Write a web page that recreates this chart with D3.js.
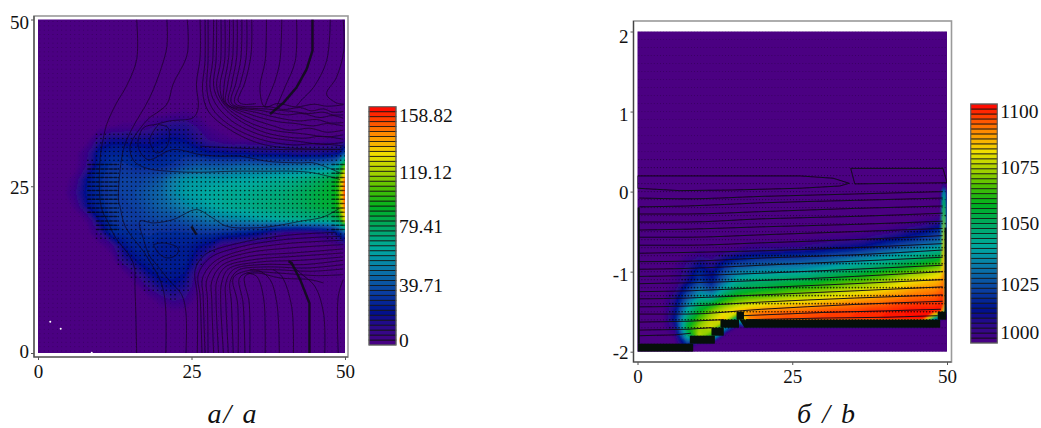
<!DOCTYPE html>
<html>
<head>
<meta charset="utf-8">
<title>Two field plots</title>
<script src="https://cdn.jsdelivr.net/npm/d3@7"></script>
<style>
  body { margin: 0; background: #fff; }
  text { font-family: "Liberation Serif", serif; fill: #111; }
</style>
</head>
<body>
<div id="chart"></div>
<script>
// ---- panel a: field values, rows from y=50 down to y=0
var speedCols = [0,2,4,6,8,10,12,14,16,18,20,22,24,26,28,30,32,34,36,38,40,42,44,46,48,49,49.5,50]
var speedYs = [50,48,46,44,42,40,38,36,34,32,30,28,26,24,22,20,18,16,14,12,10,8,6,4,2,0]
var speedRows = [
  [0,0,0,0,0,0,0,0,0,0,0,0,0,0,0,0,0,0,0,0,0,0,0,0,0,0,0,0],
  [0,0,0,0,0,0,0,0,0,0,0,0,0,0,0,0,0,0,0,0,0,0,0,0,0,0,0,0],
  [0,0,0,0,0,0,0,0,0,0,0,0,0,0,0,0,0,0,0,0,0,0,0,0,0,0,0,0],
  [0,0,0,0,0,0,0,0,0,0,0,0,0,0,0,0,0,0,0,0,0,0,0,0,0,0,0,0],
  [0,0,0,0,0,0,0,0,0,0,0,0,0,0,0,0,0,0,0,0,0,0,0,0,0,0,0,0],
  [0,0,0,0,0,0,0,0,0,0,0,0,0,0,0,0,0,0,0,0,0,0,0,0,0,0,0,0],
  [0,0,0,0,0,0,0,0,0,0,0,0,0,0,0,0,0,0,0,0,0,0,0,0,0,0,0,0],
  [0,0,0,0,0,0,0,0,0,0,0,2,3,1,0,0,0,0,0,0,0,0,0,0,0,0,0,0],
  [0,0,0,0,0,0,2,3,3,6,12,14,14,8,2,0,0,0,0,0,0,0,0,0,0,0,0,0],
  [0,0,0,0,0,12,18,18,18,18,20,22,20,14,8,4,2,2,2,2,2,2,2,2,3,3,4,6],
  [0,0,0,0,8,25,28,28,26,24,25,28,28,26,22,22,20,20,18,18,18,16,16,16,18,20,28,40],
  [0,0,0,0,10,28,32,32,30,30,30,32,38,42,42,42,44,46,46,46,46,48,50,52,56,66,88,110],
  [0,0,0,4,22,30,34,36,36,38,42,52,58,60,60,60,62,62,64,66,68,70,74,80,86,98,125,150],
  [0,0,0,8,24,30,34,36,38,42,46,54,60,62,64,66,68,68,70,72,74,78,82,86,90,100,130,155],
  [0,0,0,3,20,28,34,34,36,40,44,48,54,58,62,66,68,70,72,74,76,78,82,86,88,98,125,150],
  [0,0,0,0,3,22,32,34,34,36,38,38,42,46,50,52,54,56,60,62,66,68,70,72,76,84,105,130],
  [0,0,0,0,0,10,28,30,30,32,30,30,30,32,32,30,28,26,22,14,8,6,6,8,14,25,32,40],
  [0,0,0,0,0,0,6,22,28,28,26,26,26,22,18,6,4,0,0,0,0,0,0,0,0,2,3,4],
  [0,0,0,0,0,0,0,14,22,26,26,26,26,16,4,0,0,0,0,0,0,0,0,0,0,0,0,0],
  [0,0,0,0,0,0,0,1,10,20,24,24,22,5,0,0,0,0,0,0,0,0,0,0,0,0,0,0],
  [0,0,0,0,0,0,0,0,1,10,18,20,16,3,0,0,0,0,0,0,0,0,0,0,0,0,0,0],
  [0,0,0,0,0,0,0,0,0,0,5,10,8,0,0,0,0,0,0,0,0,0,0,0,0,0,0,0],
  [0,0,0,0,0,0,0,0,0,0,0,0,0,0,0,0,0,0,0,0,0,0,0,0,0,0,0,0],
  [0,0,0,0,0,0,0,0,0,0,0,0,0,0,0,0,0,0,0,0,0,0,0,0,0,0,0,0],
  [0,0,0,0,0,0,0,0,0,0,0,0,0,0,0,0,0,0,0,0,0,0,0,0,0,0,0,0],
  [0,0,0,0,0,0,0,0,0,0,0,0,0,0,0,0,0,0,0,0,0,0,0,0,0,0,0,0]
]
// isolines of panel a, [x, y] in data units
var speedLines = [
  [[16.07,50],[16.07,44],[14.4,40],[12.8,37.5],[11.2,34.3],[10.6,32],[10.1,29],[10.1,23],[10.6,21],[11.2,20],[12.5,17.5],[15.5,13.5],[15.8,9.5],[16.07,0]],
  [[21,50],[21,46],[20.1,42.8],[18.2,38.3],[15.25,33.5],[13.9,30.5],[13.1,23],[13.35,22],[14.2,19],[17.7,14.5],[20.4,9.5],[20.8,0]],
  [[24.3,50],[24.3,44.8],[22,40.3],[21,37.3],[19,35.8],[18.2,35.3],[16.5,33.5],[15,31],[15.6,28.8],[17.7,27.7],[22,27.2],[26.4,27.1],[31.8,27.25],[37.3,27.25],[41.6,27.25],[44.9,27],[49.2,26]],
  [[26.4,50],[26.4,44.3],[25.8,40.3],[26.1,36.8],[25.3,35.3],[21.5,34.8],[19.3,34.3],[17.15,33.75],[16.3,31],[17.9,29],[22,30.5],[26.4,29.75],[29.7,29.5],[33,29.5],[37.3,28.75],[42.7,28.5],[44.9,28.5],[49.2,27]],
  [[19.6,34.25],[21.2,33.75],[21,31],[19.3,30],[18.2,32],[19.6,34.25]],
  [[26.4,31],[33,30.7],[40,30.5],[49.2,30.5]],
  [[24.1,0],[24.1,6],[23.4,8.75],[21.5,10.75],[19.3,13.25],[18.2,14.5],[17.2,17],[16.6,19.75],[18.8,19.5],[22,20],[25.8,21.5],[28,20.5],[30.7,19],[34.5,18.75],[38.3,19],[42.7,19.75],[46.5,20.4],[49.2,21.75]],
  [[18.8,16.25],[20.4,16.5],[22.8,15.75],[22.6,14.75],[21,14.25],[19.6,15],[18.8,16.25]],
  [[27.2,50],[27.2,43.8],[26.8,39.3],[27.7,36.3],[30.7,33.8],[35.6,31.55],[40,30.8],[49.7,30.55]],
  [[27.7,50],[27.7,43.8],[27.5,39.55],[28.3,36.8],[31,34.3],[36.15,32.05],[41.6,31.2],[45,31.4],[49.7,31.05]],
  [[28.6,50],[28.45,43.8],[28,40],[28.8,37.55],[31.55,34.8],[36.7,32.55],[42.7,31.7],[46,31.3],[49.7,31.55]],
  [[29.1,50],[29,43.8],[28.6,40],[29.65,37.55],[32.1,35.3],[37,33.05],[43.2,32.2],[46,32.5],[49.7,32.05]],
  [[29.8,50],[29.75,43.8],[29.1,40],[30.1,37.55],[32.9,35.3],[37.5,33.55],[43.75,32.8],[47,32.4],[49.7,32.7]],
  [[30.45,50],[30.4,43.8],[29.65,40],[30.3,37.55],[33.7,35.55],[38.3,34.05],[41,33.4],[44.3,33.7],[47,33.1],[49.7,33.4]],
  [[31.2,50],[31.05,44.3],[30.3,40],[30.45,37.55],[34.5,35.8],[38.9,34.7],[42,34.4],[44.85,34.05],[47,34.4],[49.7,34.05]],
  [[31.8,50],[31.7,44.3],[30.85,40],[30.7,37.4],[35.6,36.05],[39.4,35.2],[42.5,34.8],[45.4,35],[47.5,34.5],[49.7,34.55]],
  [[32.45,50],[32.35,44.3],[31.55,40.3],[31.15,37.4],[36.7,36.3],[40.5,35.7],[43,35.9],[45.9,35.3],[48,35.6],[49.7,35.2]],
  [[33.2,50],[33.05,44.3],[32.25,40.55],[31.55,37.4],[37.5,36.55],[41.6,36.2],[44,35.9],[46.5,36.1],[48,35.7],[49.7,35.7]],
  [[34,50],[33.9,44.3],[33,40.55],[32.1,37.4],[37.8,36.9],[40,36.5],[42.7,36.8],[44.5,36.3],[46.5,36.6],[48,36.1],[49.7,36.2]],
  [[34.8,50],[34.7,44.8],[33.7,40.55],[32.6,37.8],[33.4,37.3],[35.5,37.4]],
  [[37.2,50],[37,43.8],[36.15,39.8],[36.9,36.9],[39,37.4],[42,36.9],[45,37.3],[47,37],[49.7,37.2]],
  [[39.7,50],[39.4,43.8],[38.6,40.8],[37.5,38.3],[36.9,36.9]],
  [[42.1,50],[41.9,43.8],[40.2,39.8],[38.9,37]],
  [[47.6,50],[47,43.8],[44.85,39.8],[43,38],[42.1,37]],
  [[49.7,50],[49.8,45.3],[48.6,41.3],[47,38.8],[48.6,37.5],[49.8,37.3]],
  [[25.95,0],[25.95,8.5],[25.6,12.5],[27.2,14.75],[32.35,16.4],[40,17.6],[48.6,18.1]],
  [[26.7,0],[26.4,8.5],[26.1,11.75],[28,14.25],[32.9,15.9],[40,17],[49.45,17.5]],
  [[27.2,0],[26.9,8.5],[26.8,11.25],[28.8,13.75],[33.4,15.4],[40.5,16.4],[49.7,16.9]],
  [[27.7,0],[27.6,8],[27.5,11],[29.4,13.5],[34,15],[41,15.75],[49.7,16.25]],
  [[28.6,0],[28.3,8],[28.3,10.75],[29.9,13.1],[34.5,14.5],[41.6,15],[49.7,15.6]],
  [[29.4,0],[29,8],[29.1,10.75],[30.5,12.9],[35.1,14],[42.1,14.5],[49.7,15]],
  [[30.2,0],[29.75,8],[29.9,10.5],[31,12.6],[35.6,13.6],[42.7,13.9],[49.7,14.4]],
  [[31,0],[30.6,7.5],[30.6,10.5],[31.8,12.5],[36.2,13.25],[43.2,13.25],[49.7,13.9]],
  [[31.8,0],[31.5,7.5],[31.3,10.75],[32.6,12.4],[36.7,12.9],[43.8,12.75],[49.7,13.25]],
  [[32.6,0],[32.5,7.5],[31.8,11.25],[33.7,12.25],[37.8,12.5],[44.3,12.25],[49.7,12.6]],
  [[33.7,0],[33.4,7.5],[32.8,11.25],[34.5,12.1],[38.9,12],[45.4,11.6],[49.7,11.75]],
  [[34.5,0],[34.4,7.5],[33.7,11.5],[35.6,12],[39.4,11.25],[44.3,11],[46.5,10.5]],
  [[37,0],[37,3.5],[36.7,8.5],[35.6,11.5],[34,12]],
  [[39.3,0],[38.9,7.5],[37.8,11],[36.2,12.25],[34.5,12.5]],
  [[41.6,0],[41.3,7],[39.7,11.5],[38.3,12.5]],
  [[46.7,0],[46.5,6],[45.1,10],[42.7,12],[41,13.5]],
  [[48.9,0],[48.9,8.5],[49.7,11]]
]
// the two heavy isolines and the short heavy mark
var speedHeavy = [
  [[44.7,50],[44.7,45.3],[43.75,42.55],[42.1,39.8],[40,37.55],[37.8,35.8]],
  [[44.2,0],[44.2,7.5],[42.7,11],[41.3,13.5],[40.8,13.75]],
  [[25,19],[25.8,17.75]]
]
var speedSpecks = [[2,4.7],[3.7,3.65],[8.75,0.05]]
// arrow class of the vector overlay (0 faint dot, 3 dash)
var speedFlowXs = [0,5,10,15,20,25,30,35,40,45,50]
var speedFlowYs = [50,45,40,35,32,25,21,15,10,5,0]
var speedFlow = [
  [0,0,0,0,0,0,0,0,0,0,0],
  [0,0,0,0,0,0,0,0,0,0,0],
  [0,0,0,0,0,0,0,0,0,0,0],
  [0,0,0,0,1,1,0,0,0,0,0],
  [0,0,2,2,2,2,2,2,2,2,2],
  [0,0,3,2,2,2,2,2,2,2,3],
  [0,0,3,2,2,2,2,2,2,2,3],
  [0,0,2,2,2,2,2,2,2,2,2],
  [0,0,0,2,2,2,0,0,0,0,0],
  [0,0,0,0,0,0,0,0,0,0,0],
  [0,0,0,0,0,0,0,0,0,0,0]
]
var speedTicks = [0,25,50]
var speedBarTicks = [0,39.71,79.41,119.12,158.82]

// ---- panel b: field over 1000, rows from y=0.4 down to y=-2
var tempCols = [0,2,4,6,8,10,12,14,16,18,20,22,24,26,28,30,32,34,36,38,40,42,44,46,48,49,49.5,50]
var tempYs = [0.4,0.3,0.2,0.1,0,-0.1,-0.2,-0.3,-0.4,-0.5,-0.6,-0.7,-0.8,-0.9,-1,-1.1,-1.2,-1.3,-1.4,-1.5,-1.6,-1.7,-1.8,-1.9,-2]
var tempRows = [
  [0,0,0,0,0,0,0,0,0,0,0,0,0,0,0,0,0,0,0,0,0,0,0,0,0,0,0,0],
  [0,0,0,0,0,0,0,0,0,0,0,0,0,0,0,0,0,0,0,0,0,0,0,0,0,0,0,0],
  [0,0,0,0,0,0,0,0,0,0,0,0,0,0,0,0,0,0,0,0,0,0,0,0,0,0,0,0],
  [0,0,0,0,0,0,0,0,0,0,0,0,0,0,0,0,0,0,0,0,0,0,0,0,0,0,5,0],
  [0,0,0,0,0,0,0,0,0,0,0,0,0,0,0,0,0,0,0,0,0,0,0,0,0,0,38,0],
  [0,0,0,0,0,0,0,0,0,0,0,0,0,0,0,0,0,0,0,0,0,0,0,0,0,0,55,0],
  [0,0,0,0,0,0,0,0,0,0,0,0,0,0,0,0,0,0,0,0,0,0,0,0,0,0,66,0],
  [0,0,0,0,0,0,0,0,0,0,0,0,0,0,0,0,0,0,0,0,0,0,0,0,1,2,70,0],
  [0,0,0,0,0,0,0,0,0,0,0,0,0,0,0,0,0,0,0,0,0,1,2,4,8,10,74,0],
  [0,0,0,0,0,0,0,0,0,0,0,0,0,0,0,0,0,0,1,2,3,6,10,13,18,20,78,0],
  [0,0,0,0,0,0,0,0,0,0,0,0,0,1,2,3,4,5,6,9,12,15,18,22,26,28,82,0],
  [0,0,0,0,0,0,0,0,1,4,5,5,6,6,8,10,12,13,15,18,22,26,30,34,38,40,84,0],
  [0,0,0,0,2,5,4,8,12,14,16,17,18,19,20,22,24,26,29,32,36,39,42,46,50,52,86,0],
  [0,0,0,1,6,12,8,16,22,24,26,27,28,28,30,32,35,38,40,43,46,50,54,58,62,64,88,0],
  [0,0,0,2,8,18,12,24,32,34,36,37,38,39,41,44,47,50,52,56,60,63,66,70,74,76,90,0],
  [0,0,0,2,10,20,14,28,40,44,46,48,50,51,53,56,59,62,64,67,70,74,78,80,83,85,92,0],
  [0,0,0,3,18,30,22,38,48,52,54,56,59,61,63,66,69,72,74,77,79,82,85,87,88,90,94,0],
  [0,0,0,8,24,38,36,52,60,63,65,67,70,72,74,77,79,81,83,85,87,88,90,91,92,94,96,0],
  [0,0,0,10,32,50,56,66,72,76,78,80,81,83,84,86,87,89,90,91,92,94,95,96,96,97,98,0],
  [0,0,0,12,42,58,70,78,84,88,90,91,92,92,93,94,95,95,96,97,97,98,99,99,99,100,60,0],
  [0,0,0,14,50,66,76,85,40,90,92,93,94,94,95,95,96,96,97,97,98,98,99,99,30,0,0,0],
  [0,0,0,8,56,72,78,40,0,0,0,0,0,0,0,0,0,0,0,0,0,0,0,0,0,0,0,0],
  [0,0,0,2,45,76,60,0,0,0,0,0,0,0,0,0,0,0,0,0,0,0,0,0,0,0,0,0],
  [0,0,0,0,20,0,0,0,0,0,0,0,0,0,0,0,0,0,0,0,0,0,0,0,0,0,0,0],
  [0,0,0,0,0,0,0,0,0,0,0,0,0,0,0,0,0,0,0,0,0,0,0,0,0,0,0,0]
]
// isolines of panel b: y at each of the shared x stops
var tempStops = [0.3,8,20,35,49.3]
var tempLevels = [
  [-0.08,-0.09,-0.06,-0.03,0],
  [-0.19,-0.18,-0.14,-0.11,-0.08],
  [-0.28,-0.28,-0.25,-0.21,-0.18],
  [-0.38,-0.38,-0.34,-0.31,-0.27],
  [-0.48,-0.47,-0.44,-0.41,-0.37],
  [-0.57,-0.57,-0.54,-0.5,-0.46],
  [-0.67,-0.67,-0.64,-0.6,-0.55],
  [-0.77,-0.76,-0.74,-0.7,-0.65],
  [-0.875,-0.87,-0.83,-0.79,-0.73],
  [-0.97,-0.96,-0.92,-0.87,-0.82],
  [-1.06,-1.05,-1.02,-0.97,-0.92],
  [-1.15,-1.14,-1.11,-1.06,-1],
  [-1.25,-1.24,-1.2,-1.15,-1.1],
  [-1.34,-1.33,-1.29,-1.24,-1.19],
  [-1.44,-1.43,-1.38,-1.33,-1.29],
  [-1.53,-1.53,-1.47,-1.41,-1.37]
]
var tempLines = [
  [[0.3,-1.63],[8,-1.62],[14,-1.6]],
  [[0.3,-1.73],[8,-1.72],[12,-1.7]],
  [[0.3,-1.8],[6,-1.79],[8.6,-1.77]],
  [[17,-1.55],[30,-1.51],[40,-1.49],[49,-1.47]],
  [[17.5,-1.6],[30,-1.58],[40,-1.57],[48.5,-1.55]],
  [[0,0.196],[15.4,0.196],[26.2,0.196],[31.6,0.167],[34.2,0.104],[32.7,0.07],[26.2,0.042],[15.4,0.02],[6.8,0.012],[0,0.042],[0,0.196]],
  [[34.45,0.29],[49.35,0.29],[50,0.11],[42,0.104],[35.1,0.096],[34.45,0.29]]
]
// black wall cells of panel b: x0, x1, y0, y1
var tempWalls = [
  [0,9,-2,-1.9],
  [8.45,12.5,-1.9,-1.8],
  [11.95,13.94,-1.8,-1.7],
  [13.4,16.4,-1.7,-1.6],
  [16,17.2,-1.6,-1.5],
  [17.5,48.9,-1.7,-1.6],
  [48.5,49.9,-1.6,-1.5],
  [0,0.35,-1.9,-0.2],
  [49.6,49.9,-1.5,-0.45]
]
var tempSpike = [[16.5,-1.6],[17.5,-1.6],[17.6,-1.7],[17.3,-1.7]]
var tempFlowXs = [0,10,20,30,40,50]
var tempFlowYs = [2,1,0,-0.5,-1,-1.5,-2]
var tempFlow = [
  [0,0,0,0,0,0],
  [0,0,0,0,0,0],
  [1,1,1,1,1,1],
  [1,1,2,2,2,2],
  [1,2,2,2,2,2],
  [1,2,2,2,2,2],
  [0,0,0,0,0,0]
]
var tempTicksX = [0,25,50]
var tempTicksY = [-2,-1,0,1,2]
var tempBarTicks = [1000,1025,1050,1075,1100]

// shared rainbow, fraction of the range to colour
var rampStops = [0,0.08,0.14,0.22,0.32,0.4,0.5,0.58,0.66,0.72,0.8,0.88,1]
var rampColors = ["#4b0082","#2a0a8a","#00108c","#0a3ea0","#0a78a8","#00a8a0","#00a860","#00b020","#50c000","#a0d000","#f0e000","#ff9000","#ff0000"]
var ramp = d3.scaleLinear().domain(rampStops).range(rampColors)

var svg = d3.select("#chart").append("svg")
    .attr("width", 1041)
    .attr("height", 428)
    .style("display", "block")

var defs = svg.append("defs")
defs.append("filter").attr("id", "soft")
    .attr("x", "-2%").attr("y", "-2%").attr("width", "104%").attr("height", "104%")
    .append("feGaussianBlur").attr("stdDeviation", 0.8)
defs.append("filter").attr("id", "soft2")
    .attr("filterUnits", "userSpaceOnUse")
    .attr("x", 0).attr("y", 0).attr("width", 1041).attr("height", 428)
    .append("feGaussianBlur").attr("stdDeviation", 0.35)

// filled field through d3.contours, grid index to data through piecewise scales
function drawField(g, cols, ys, rows, x, y, maxValue) {
    var n = cols.length, m = ys.length
    var values = rows.flat()
    var ix = d3.scaleLinear().domain(d3.range(n)).range(cols)
    var iy = d3.scaleLinear().domain(d3.range(m)).range(ys)
    var path = d3.geoPath(d3.geoTransform({
        point: function (px, py) {
            this.stream.point(x(ix(px - 0.5)), y(iy(py - 0.5)))
        }
    }))
    var bands = d3.range(1, 72).map(function (i) { return maxValue * i / 72 })
    var contours = d3.contours().size([n, m]).thresholds(bands)(values)
    g.append("g").attr("filter", "url(#soft)")
        .selectAll("path").data(contours).enter().append("path")
        .attr("d", path)
        .attr("fill", function (d) { return ramp((d.value + maxValue / 144) / maxValue) })
}

function drawLines(g, lines, x, y, width, opacity, curve) {
    var line = d3.line().curve(curve).x(function (d) { return x(d[0]) }).y(function (d) { return y(d[1]) })
    g.append("g").attr("filter", "url(#soft2)")
        .selectAll("path").data(lines).enter().append("path")
        .attr("d", line)
        .attr("fill", "none")
        .attr("stroke", "#120a18")
        .attr("stroke-width", width)
        .attr("stroke-opacity", opacity)
}

// vector overlay: one path per arrow class, strong arrows only where the field is up
function drawDots(g, xs, ys, flow, flowXs, flowYs, x, y, field, calm) {
    var cells = [[], [], [], []]
    var fieldYs = field.ys.slice().reverse()
    var flowAsc = flowYs.slice().reverse()
    ys.forEach(function (vy) {
        var r = flowYs.length - 1 - d3.bisectCenter(flowAsc, vy)
        var fr = field.ys.length - 1 - d3.bisectCenter(fieldYs, vy)
        xs.forEach(function (vx) {
            var k = flow[r][d3.bisectCenter(flowXs, vx)]
            if (k >= 2 && field.rows[fr][d3.bisectCenter(field.cols, vx)] < field.floor) k = calm
            cells[k].push([x(vx), y(vy)])
        })
    })
    var style = [
        {w: 1, o: 0.25, len: 0.1},
        {w: 1.1, o: 0.5, len: 0.1},
        {w: 1.6, o: 0.75, len: 0.1},
        {w: 1.5, o: 0.7, len: 2.6}
    ]
    var dots = g.append("g").attr("filter", "url(#soft2)")
    cells.forEach(function (pts, i) {
        dots.append("path")
            .attr("d", pts.map(function (p) { return "M" + p[0] + "," + p[1] + "h" + style[i].len }).join(""))
            .attr("fill", "none")
            .attr("stroke", "#000")
            .attr("stroke-linecap", "round")
            .attr("stroke-width", style[i].w)
            .attr("stroke-opacity", style[i].o)
    })
}

function drawFrame(g, f) {
    g.append("rect")
        .attr("x", f.x0).attr("y", f.y0)
        .attr("width", f.x1 - f.x0).attr("height", f.y1 - f.y0)
        .attr("fill", "none").attr("stroke", "#9a9a9a").attr("stroke-width", 1.6)
    g.append("path")
        .attr("d", "M" + f.x0 + "," + f.y0 + "V" + f.y1 + "H" + f.x1)
        .attr("fill", "none").attr("stroke", "#444").attr("stroke-width", 1.2)
}

function drawAxes(g, f, x, y, xTicks, yTicks, yShift) {
    var fmt = function (d) { return String(d) }
    var ax = g.append("g").attr("transform", "translate(0," + f.y1 + ")")
        .call(d3.axisBottom(x).tickValues(xTicks).tickFormat(fmt).tickSize(3).tickPadding(5))
    var ay = g.append("g").attr("transform", "translate(" + f.x0 + ",0)")
        .call(d3.axisLeft(y).tickValues(yTicks).tickFormat(fmt).tickSize(3).tickPadding(2))
    ax.select(".domain").remove()
    ay.select(".domain").remove()
    ax.selectAll("line").attr("stroke", "#555")
    ay.selectAll("line").attr("stroke", "#555")
    ax.selectAll("text").style("font-size", "19px").attr("fill", "#111")
    ay.selectAll("text").style("font-size", "19px").attr("fill", "#111")
        .attr("transform", function (d, i) { return "translate(0," + yShift[i] + ")" })
}

function drawBar(g, b, maxValue, minValue, ticks, shift) {
    var y = d3.scaleLinear().domain([minValue, maxValue]).range([b.y1, b.y0])
    var steps = 48
    var span = maxValue - minValue
    g.selectAll("rect.band").data(d3.range(steps)).enter().append("rect")
        .attr("class", "band")
        .attr("x", b.x0)
        .attr("width", b.x1 - b.x0)
        .attr("y", function (i) { return y(minValue + span * (i + 1) / steps) })
        .attr("height", function (i) { return y(minValue + span * i / steps) - y(minValue + span * (i + 1) / steps) })
        .attr("fill", function (i) { return ramp((i + 0.5) / steps) })
        .attr("stroke", "#111")
        .attr("stroke-opacity", 0.85)
        .attr("stroke-width", 0.9)
    g.append("rect")
        .attr("x", b.x0).attr("y", b.y0)
        .attr("width", b.x1 - b.x0).attr("height", b.y1 - b.y0)
        .attr("fill", "none").attr("stroke", "#777").attr("stroke-width", 1)
    var ax = g.append("g").attr("transform", "translate(" + b.x1 + ",0)")
        .call(d3.axisRight(y).tickValues(ticks).tickFormat(String).tickSize(0).tickPadding(3))
    ax.select(".domain").remove()
    ax.selectAll("text")
        .style("font-size", "19.5px")
        .attr("fill", "#111")
        .attr("transform", function (d, i) { return "translate(0," + shift[i] + ")" })
}

// ---- panel a
var frameA = {x0: 34, x1: 348, y0: 16, y1: 357}
var xA = d3.scaleLinear().domain([0, 50]).range([38, 345])
var yA = d3.scaleLinear().domain([0, 50]).range([353, 19.5])
var panelA = svg.append("g")
defs.append("clipPath").attr("id", "clipA").append("rect")
    .attr("x", xA(0)).attr("y", yA(50)).attr("width", xA(50) - xA(0)).attr("height", yA(0) - yA(50))
panelA.append("rect")
    .attr("x", xA(0)).attr("y", yA(50)).attr("width", xA(50) - xA(0)).attr("height", yA(0) - yA(50))
    .attr("fill", ramp(0))
var plotA = panelA.append("g").attr("clip-path", "url(#clipA)")
drawField(plotA, speedCols, speedYs, speedRows, xA, yA, 158.82)
drawDots(plotA, d3.range(0.3, 50, 0.71), d3.range(0.3, 50, 0.65), speedFlow, speedFlowXs, speedFlowYs, xA, yA,
    {cols: speedCols, ys: speedYs, rows: speedRows, floor: 10}, 0)
drawLines(plotA, speedLines, xA, yA, 0.9, 0.7, d3.curveCatmullRom)
drawLines(plotA, speedHeavy, xA, yA, 2.4, 0.9, d3.curveLinear)
plotA.selectAll("circle").data(speedSpecks).enter().append("circle")
    .attr("cx", function (d) { return xA(d[0]) })
    .attr("cy", function (d) { return yA(d[1]) })
    .attr("r", 1)
    .attr("fill", "#fff")
drawFrame(panelA, frameA)
drawAxes(panelA, frameA, xA, yA, speedTicks, speedTicks, [-2, 0.7, 2.7])
drawBar(panelA.append("g"), {x0: 369, x1: 396, y0: 106.7, y1: 345}, 158.82, 0, speedBarTicks, [-5, 0, 0.7, 6, 9])

// ---- panel b
var frameB = {x0: 633.5, x1: 951.5, y0: 21, y1: 362}
var xB = d3.scaleLinear().domain([0, 50]).range([637.5, 947])
var yB = d3.scaleLinear().domain([-2, 2]).range([351.7, 31.5])
var panelB = svg.append("g")
defs.append("clipPath").attr("id", "clipB").append("rect")
    .attr("x", xB(0)).attr("y", yB(2)).attr("width", xB(50) - xB(0)).attr("height", yB(-2) - yB(2))
panelB.append("rect")
    .attr("x", xB(0)).attr("y", yB(2)).attr("width", xB(50) - xB(0)).attr("height", yB(-2) - yB(2))
    .attr("fill", ramp(0))
var plotB = panelB.append("g").attr("clip-path", "url(#clipB)")
drawField(plotB, tempCols, tempYs, tempRows, xB, yB, 100)
drawDots(plotB, d3.range(0.2, 50, 0.5), d3.range(-2, 2.01, 0.1), tempFlow, tempFlowXs, tempFlowYs, xB, yB,
    {cols: tempCols, ys: tempYs, rows: tempRows, floor: 8}, 1)
var tempIso = tempLevels.map(function (row) {
    return row.map(function (v, i) { return [tempStops[i], v] })
})
drawLines(plotB, tempIso, xB, yB, 1, 0.95, d3.curveMonotoneX)
drawLines(plotB, tempLines, xB, yB, 1, 0.95, d3.curveLinear)
plotB.append("g").selectAll("rect").data(tempWalls).enter().append("rect")
    .attr("x", function (d) { return xB(d[0]) })
    .attr("width", function (d) { return xB(d[1]) - xB(d[0]) })
    .attr("y", function (d) { return yB(d[3]) })
    .attr("height", function (d) { return yB(d[2]) - yB(d[3]) })
    .attr("fill", "#050f0a")
plotB.append("path")
    .datum(tempSpike)
    .attr("d", d3.line().x(function (d) { return xB(d[0]) }).y(function (d) { return yB(d[1]) }))
    .attr("fill", "#050f0a")
drawFrame(panelB, frameB)
drawAxes(panelB, frameB, xB, yB, tempTicksX, tempTicksY, [1, 3, 1.3, 2.6, 4.7])
drawBar(panelB.append("g"), {x0: 970.7, x1: 997.3, y0: 104, y1: 343}, 1100, 1000, tempBarTicks, [-11, 1, -0.5, 3, 7.7])

// ---- captions
svg.append("text").attr("x", 233).attr("y", 423).attr("text-anchor", "middle")
    .style("font-style", "italic").style("font-size", "28px").style("letter-spacing", "2px")
    .text("а/ а")
svg.append("text").attr("x", 827).attr("y", 423).attr("text-anchor", "middle")
    .style("font-style", "italic").style("font-size", "28px").style("letter-spacing", "2px")
    .text("б / b")
</script>
</body>
</html>
